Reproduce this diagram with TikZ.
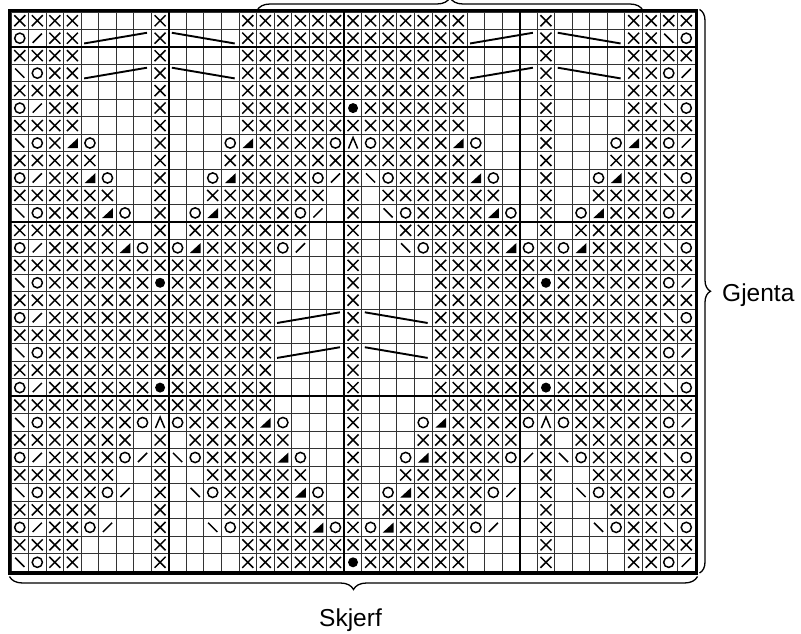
\documentclass[tikz,border=0pt]{standalone}
\usepackage{fontspec}
\setmainfont{Liberation Sans}
\usetikzlibrary{decorations.pathreplacing}

\newcount\knc
\def\kcw{17.54}
\def\kch{17.47}
\def\kxo{11}
\def\kyo{12}

\tikzset{
  gridline/.style={line width=0.9pt, black!80},
  blockline/.style={line width=2.2pt, black},
  borderline/.style={line width=3.6pt, black},
  symline/.style={line width=1.5pt, black},
  cableline/.style={line width=1.9pt, black},
  bracestyle/.style={decorate, decoration={brace, amplitude=#1}, line width=1.3pt, black},
  chartlabel/.style={font=\fontsize{24.5}{29}\selectfont, inner sep=0pt},
}

% symbol shapes in local cell coordinates (pt, y downwards)
\def\kslash{\draw[symline] (-4.6,4.6) -- (4.6,-4.6);}
\def\kbslash{\draw[symline] (-4.6,-4.6) -- (4.6,4.6);}
\def\kshape#1#2{%
  \if#1X\draw[symline] (-5.5,-5.5) -- (5.5,5.5) (-5.5,5.5) -- (5.5,-5.5);\fi
  \if#1O\draw[symline] (0,0) circle[radius=5.1pt];\fi
  \if#1S\ifnum#2=0 \kslash\else\kbslash\fi\fi
  \if#1B\ifnum#2=0 \kbslash\else\kslash\fi\fi
  \if#1T\fill[black] (5.4,-4.8) -- (5.4,5.2) -- (-5.4,5.2) -- cycle;\fi
  \if#1D\fill[black] (0,0) circle[radius=5pt];\fi
  \if#1A\draw[symline] (-4.6,5.5) -- (0,-5.5) -- (4.6,5.5);\fi
}
\def\kdraw#1#2#3{%
  \begin{scope}[shift={({\kxo+(#1+0.5)*\kcw},{\kyo+(\currow+0.5)*\kch})}]
    \kshape{#2}{#3}%
  \end{scope}}
\def\kcell#1{%
  \if#1-\else
    \edef\kc{\the\knc}%
    \kdraw{\kc}{#1}{0}%
    \ifnum\knc<19
      \edef\km{\the\numexpr38-\knc\relax}%
      \kdraw{\km}{#1}{1}%
    \fi
  \fi}
\def\kparse#1{\ifx#1\relax\else\kcell{#1}\global\advance\knc by 1 \expandafter\kparse\fi}
\def\krow#1#2{\global\knc=0 \def\currow{#1}\kparse#2\relax}
\def\kcable#1#2{%
  \draw[cableline] ({\kxo+#2*\kcw+3},{\kyo+#1*\kch+14}) -- ({\kxo+(#2+4)*\kcw-4.3},{\kyo+#1*\kch+3.3});
  \draw[cableline] ({\kxo+(#2+5)*\kcw+3},{\kyo+#1*\kch+3.3}) -- ({\kxo+(#2+9)*\kcw-4.3},{\kyo+#1*\kch+14});
}

\begin{document}
\begin{tikzpicture}[x=1pt,y=-1pt]
\useasboundingbox (0,0) rectangle (801,634);
\fill[white] (0,0) rectangle (801,634);

% thin grid
\foreach \k in {0,...,39}
  \draw[gridline] ({\kxo+\k*\kcw},\kyo) -- ({\kxo+\k*\kcw},{\kyo+32*\kch});
\foreach \r in {0,...,32}
  \draw[gridline] (\kxo,{\kyo+\r*\kch}) -- ({\kxo+39*\kcw},{\kyo+\r*\kch});

% symbols (left half, mirrored to the right)
\krow{0}{XXXX----X----XXXXXXX}
\krow{1}{OSXX----X----XXXXXXX}
\krow{2}{XXXX----X----XXXXXXX}
\krow{3}{BOXX----X----XXXXXXX}
\krow{4}{XXXX----X----XXXXXXX}
\krow{5}{OSXX----X----XXXXXXD}
\krow{6}{XXXX----X----XXXXXXX}
\krow{7}{BOXTO---X---OTXXXXOA}
\krow{8}{XXXXX---X---XXXXXXXX}
\krow{9}{OSXXTO--X--OTXXXXOSX}
\krow{10}{XXXXXX--X--XXXXXXX-X}
\krow{11}{BOXXXTO-X-OTXXXXOS-X}
\krow{12}{XXXXXXX-X-XXXXXXX--X}
\krow{13}{OSXXXXTOXOTXXXXOS--X}
\krow{14}{XXXXXXXXXXXXXXX----X}
\krow{15}{BOXXXXXXDXXXXXX----X}
\krow{16}{XXXXXXXXXXXXXXX----X}
\krow{17}{OSXXXXXXXXXXXXX----X}
\krow{18}{XXXXXXXXXXXXXXX----X}
\krow{19}{BOXXXXXXXXXXXXX----X}
\krow{20}{XXXXXXXXXXXXXXX----X}
\krow{21}{OSXXXXXXDXXXXXX----X}
\krow{22}{XXXXXXXXXXXXXXX----X}
\krow{23}{BOXXXXXOAOXXXXTO---X}
\krow{24}{XXXXXXX-X-XXXXXX---X}
\krow{25}{OSXXXXOSXBOXXXXTO--X}
\krow{26}{XXXXXX--X--XXXXXX--X}
\krow{27}{BOXXXOS-X-BOXXXXTO-X}
\krow{28}{XXXXX---X---XXXXXX-X}
\krow{29}{OSXXOS--X--BOXXXXTOX}
\krow{30}{XXXX----X----XXXXXXX}
\krow{31}{BOXX----X----XXXXXXD}

% cable lines
\kcable{1}{4}
\kcable{3}{4}
\kcable{1}{26}
\kcable{3}{26}
\kcable{17}{15}
\kcable{19}{15}

% block lines
\foreach \k in {9,19,29}
  \draw[blockline] ({\kxo+\k*\kcw},\kyo) -- ({\kxo+\k*\kcw},{\kyo+32*\kch});
\foreach \r in {2,12,22}
  \draw[blockline] (\kxo,{\kyo+\r*\kch}) -- ({\kxo+39*\kcw},{\kyo+\r*\kch});

% border
\coordinate (tl) at (9.6,10.6);
\coordinate (br) at (696.6,573);
\draw[borderline] (tl) rectangle (br);

% braces
\coordinate (tb1) at (257,10.5);
\coordinate (tb2) at (643,10.5);
\coordinate (rb1) at (699.5,9.5);
\coordinate (rb2) at (699.5,573);
\coordinate (bb1) at (697.5,576.5);
\coordinate (bb2) at (9.5,576.5);
\draw[bracestyle=13pt] (tb1) -- (tb2);
\draw[bracestyle=11pt] (rb1) -- (rb2);
\draw[bracestyle=13pt] (bb1) -- (bb2);

\node[chartlabel, anchor=base west] (gjenta) at (722,301.5) {Gjenta};
\node[chartlabel, anchor=base] (skjerf) at (350.5,626.5) {Skjerf};
\end{tikzpicture}
\end{document}
